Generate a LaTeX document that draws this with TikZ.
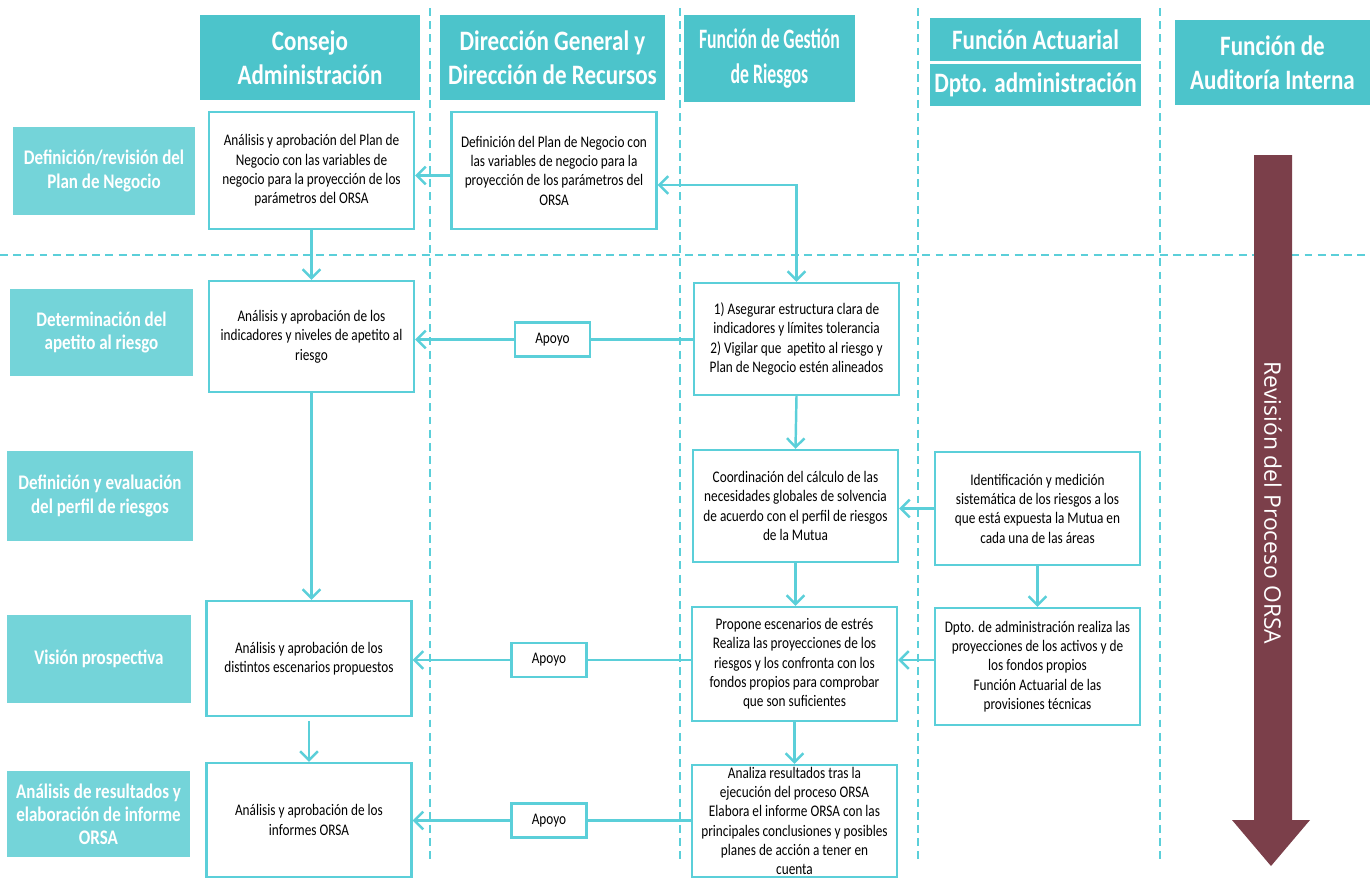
\documentclass[tikz,border=0pt]{standalone}
\usepackage{fontspec}
\setmainfont{Carlito}[FakeStretch=0.82]
\newfontfamily\narrowfont{Carlito}[FakeStretch=0.63]
\newfontfamily\revfont{Open Sans}
\usetikzlibrary{arrows.meta}

\definecolor{headteal}{HTML}{4CC4CB}
\definecolor{phaseteal}{HTML}{74D4D9}
\definecolor{lineteal}{HTML}{5BCFD9}
\definecolor{orsared}{HTML}{7B3F4A}

\tikzset{
  lanehead/.style={fill=headteal, text=white, align=center, inner sep=0pt,
    font=\bfseries\fontsize{16}{19.5}\selectfont},
  phase/.style={fill=phaseteal, text=white, align=center, inner sep=0pt,
    font=\bfseries\fontsize{11.8}{13.2}\selectfont},
  task/.style={draw=lineteal, line width=1.4pt, fill=white, align=center, inner sep=0pt,
    minimum width=4.1cm, font=\fontsize{9.2}{11}\selectfont},
  apoyo/.style={task, minimum width=1.5cm, minimum height=0.68cm},
  lane/.style={lineteal, line width=1.1pt, dash pattern=on 4.5pt off 3pt},
  flow/.style={lineteal, line width=1.4pt, >={Straight Barb[length=5pt, width=10pt]}},
}

\begin{document}
\begin{tikzpicture}[x=0.02cm, y=-0.02cm]
  \useasboundingbox (0,0) rectangle (1370,877);

  % lanes
  \foreach \lx in {430,680,918,1160}
    \draw[lane] (\lx,8) -- (\lx,860);
  \draw[lane] (0,255) -- (1370,255);

  % column heads
  \node[lanehead, minimum width=4.4cm, minimum height=1.7cm] (consejo) at (310,57.5) {Consejo\\Administración};
  \node[lanehead, minimum width=4.5cm, minimum height=1.7cm] (direccion) at (552.5,57.5) {Dirección General y\\Dirección de Recursos};
  \node[lanehead, minimum width=3.42cm, minimum height=1.74cm, font=\narrowfont\bfseries\fontsize{16}{19.5}\selectfont] (gestion) at (769.5,58.5) {Función de Gestión\\de Riesgos};
  \node[lanehead, minimum width=4.22cm, minimum height=0.86cm] (actuarial) at (1035.5,39.5) {Función Actuarial};
  \node[lanehead, minimum width=4.22cm, minimum height=0.84cm] (dpto) at (1035.5,85) {Dpto. administración};
  \node[lanehead, minimum width=3.9cm, minimum height=1.7cm] (auditoria) at (1272.5,62.5) {Función de\\Auditoría Interna};

  % phases
  \node[phase, minimum width=3.64cm, minimum height=1.76cm] (ph1) at (104,171) {Definición/revisión del\\Plan de Negocio};
  \node[phase, minimum width=3.66cm, minimum height=1.74cm] (ph2) at (101.5,332.5) {Determinación del\\apetito al riesgo};
  \node[phase, minimum width=3.72cm, minimum height=1.8cm] (ph3) at (100,496) {Definición y evaluación\\del perfil de riesgos};
  \node[phase, minimum width=3.68cm, minimum height=1.76cm] (ph4) at (99,659) {Visión prospectiva};
  \node[phase, minimum width=3.66cm, minimum height=1.72cm] (ph5) at (98.5,814) {Análisis de resultados y\\elaboración de informe\\ORSA};

  % tasks
  \node[task, minimum height=2.34cm] (A1) at (311.5,170.5) {Análisis y aprobación del Plan de\\Negocio con las variables de\\negocio para la proyección de los\\parámetros del ORSA};
  \node[task, minimum height=2.34cm] (B1) at (554,170.5) {Definición del Plan de Negocio con\\las variables de negocio para la\\proyección de los parámetros del\\ORSA};
  \node[task, minimum height=2.22cm] (A2) at (311.5,336.5) {Análisis y aprobación de los\\indicadores y niveles de apetito al\\riesgo};
  \node[task, minimum height=2.24cm] (C2) at (796.5,339) {1) Asegurar estructura clara de\\indicadores y límites tolerancia\\2) Vigilar que\, apetito al riesgo y\\Plan de Negocio estén alineados};
  \node[task, minimum height=2.24cm] (C3) at (795.5,506) {Coordinación del cálculo de las\\necesidades globales de solvencia\\de acuerdo con el perfil de riesgos\\de la Mutua};
  \node[task, minimum height=2.26cm] (D3) at (1037.5,508.5) {Identificación y medición\\sistemática de los riesgos a los\\que está expuesta la Mutua en\\cada una de las áreas};
  \node[task, minimum height=2.3cm] (A4) at (309,658.5) {Análisis y aprobación de los\\distintos escenarios propuestos};
  \node[task, minimum height=2.28cm] (C4) at (794.5,664) {Propone escenarios de estrés\\Realiza las proyecciones de los\\riesgos y los confronta con los\\fondos propios para comprobar\\que son suficientes};
  \node[task, minimum height=2.34cm] (D4) at (1037.5,666.5) {Dpto. de administración realiza las\\proyecciones de los activos y de\\los fondos propios\\Función Actuarial de las\\provisiones técnicas};
  \node[task, minimum height=2.28cm] (A5) at (309,820) {Análisis y aprobación de los\\informes ORSA};
  \node[task, minimum height=2.24cm] (C5) at (794.5,821) {Analiza resultados tras la\\ejecución del proceso ORSA\\Elabora el informe ORSA con las\\principales conclusiones y posibles\\planes de acción a tener en\\cuenta};

  \node[apoyo] (ap2) at (552.5,339.5) {Apoyo};
  \node[apoyo] (ap4) at (549,660) {Apoyo};
  \node[apoyo] (ap5) at (549,820.5) {Apoyo};

  % review arrow
  \fill[orsared] (1254,155) -- (1292,155) -- (1292,820) -- (1310,820) -- (1271,866) -- (1232,820) -- (1254,820) -- cycle;
  \node[rotate=-90, text=white, font=\revfont\fontsize{13}{15}\selectfont] (revision) at (1273,503) {Revisión del Proceso ORSA};

  % connectors
  \draw[flow, ->] ([yshift=-0.1cm]B1.west) -- ([yshift=-0.1cm]A1.east);
  \draw[flow, <->] ([yshift=-0.29cm]B1.east) -| (C2.north);
  \draw[flow, ->] (A1.south) -- (A2.north);
  \draw[flow] (C2.west |- ap2) -- (ap2.east);
  \draw[flow, ->] (ap2.west) -- (ap2 -| A2.east);
  \draw[flow, ->] (A2.south) -- (A2.south |- A4.north);
  \draw[flow, ->] (C2.south) -- (C3.north);
  \draw[flow, ->] (D3.west) -- (D3.west -| C3.east);
  \draw[flow, ->] (C3.south) -- (C3.south |- C4.north);
  \draw[flow, ->] (D3.south) -- (D4.north);
  \draw[flow, ->] (D4.west |- ap4) -- (ap4 -| C4.east);
  \draw[flow] (C4.west |- ap4) -- (ap4.east);
  \draw[flow, ->] (ap4.west) -- (ap4 -| A4.east);
  \draw[flow, ->] ([yshift=-0.08cm]A4.south) -- (A5.north);
  \draw[flow, ->] (C4.south) -- (C5.north);
  \draw[flow] (C5.west |- ap5) -- (ap5.east);
  \draw[flow, ->] (ap5.west) -- (ap5 -| A5.east);
\end{tikzpicture}
\end{document}
